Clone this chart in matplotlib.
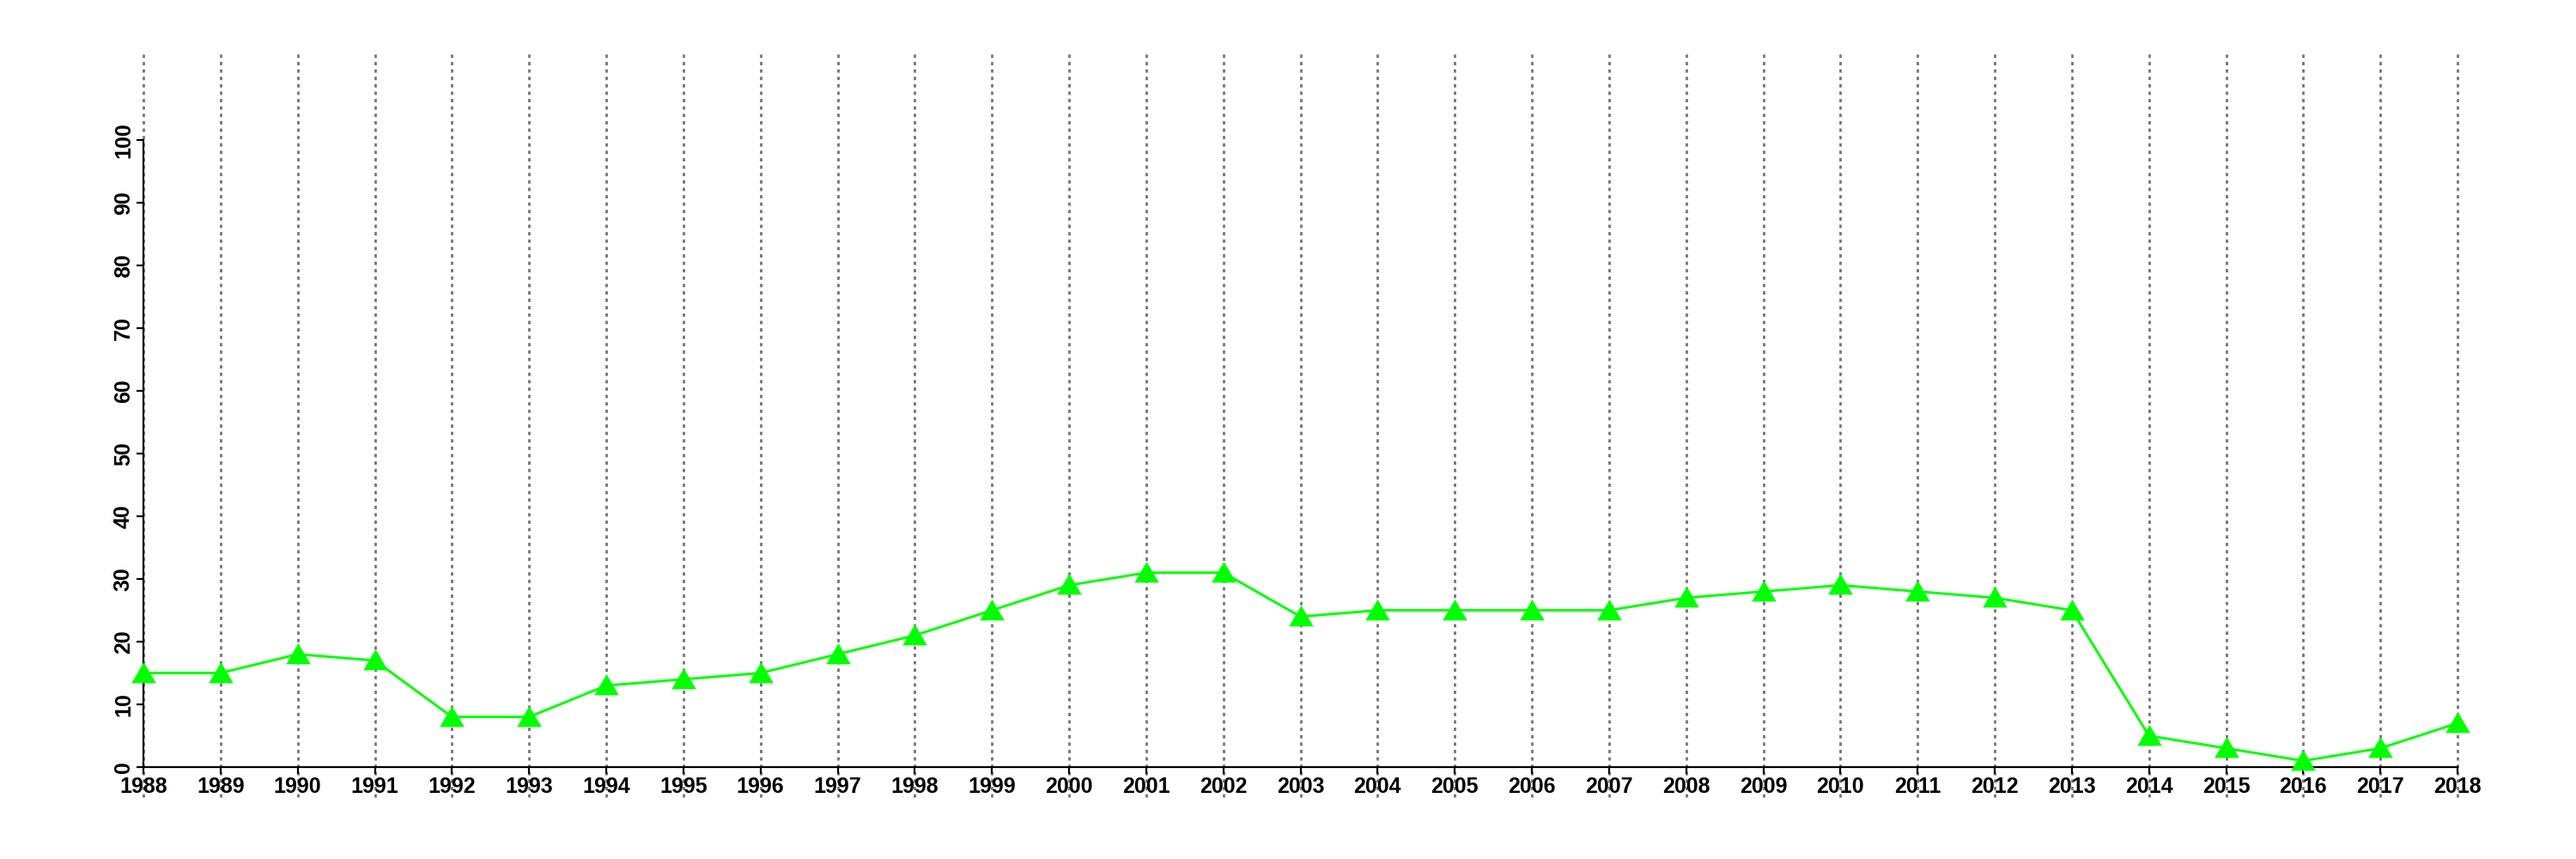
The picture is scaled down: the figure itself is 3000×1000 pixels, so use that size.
import numpy as np
import matplotlib.pyplot as plt

plt.rcParams['font.family'] = ['Liberation Sans', 'DejaVu Sans']

anos = list(range(1988, 2019))
valores = [15, 15, 18, 17, 8, 8, 13, 14, 15, 18, 21, 25, 29, 31, 31,
           24, 25, 25, 25, 25, 27, 28, 29, 28, 27, 25, 5, 3, 1, 3, 7]
yticks = list(range(0, 101, 10))

W, H = 3000, 1000
fig = plt.figure(figsize=(30, 10), dpi=100)
# axes placed so that 1988..2018 / 0..100 sit where the reference has them
x0, x1 = 167, 2862
y0, y1 = 893, 163
ax = fig.add_axes([x0 / W, 1 - y0 / H, (x1 - x0) / W, (y0 - y1) / H])
ax.set_xlim(anos[0], anos[-1])
ax.set_ylim(0, 100)

ah = y0 - y1
for a in anos:
    ax.axvline(a, ymin=(y0 - 928) / ah, ymax=(y0 - 60) / ah, color='#737373',
               lw=2.0, linestyle=(0, (1.4, 1.7)), clip_on=False, zorder=1)

# triangulo um pouco mais largo que alto, como o pch 17 do R
tri = [(0, 0.95), (-1, -0.76), (1, -0.76), (0, 0.95)]
ax.plot(anos, valores, color='#00ff00', lw=2.1, marker=tri, markersize=20.5,
        markeredgewidth=0, clip_on=False, zorder=3)

for s in ['top', 'right']:
    ax.spines[s].set_visible(False)
for s in ['left', 'bottom']:
    ax.spines[s].set_linewidth(1.6)

ax.set_xticks(anos)
ax.set_xticklabels([str(a) for a in anos], fontsize=18, fontweight='bold')
ax.set_yticks(yticks)
ax.set_yticklabels([str(v) for v in yticks], fontsize=18, fontweight='bold',
                   rotation=90, va='center')
ax.tick_params(axis='both', length=6, width=1.6, pad=2)

fig.savefig('out.png', dpi=100)
